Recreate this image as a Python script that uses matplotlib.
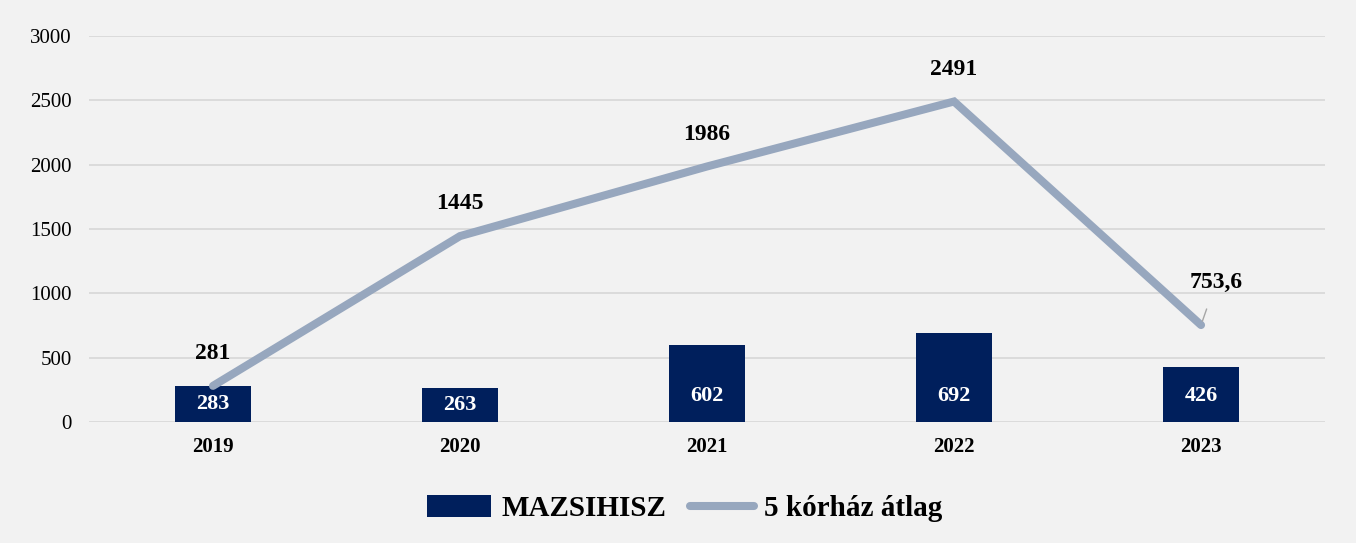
import matplotlib
matplotlib.use("Agg")
import matplotlib.pyplot as plt
import numpy as np

years = ["2019", "2020", "2021", "2022", "2023"]
mazsihisz = [283, 263, 602, 692, 426]
korhaz_atlag = [281, 1445, 1986, 2491, 753.6]
korhaz_labels = ["281", "1445", "1986", "2491", "753,6"]
yticks = [0, 500, 1000, 1500, 2000, 2500, 3000]

bar_color = "#001f5c"
line_color = "#97a7be"
bg = "#f2f2f2"

plt.rcParams['font.family'] = ['Liberation Serif', 'DejaVu Serif']

fig = plt.figure(figsize=(13.56, 5.43), dpi=100, facecolor=bg)
ax = fig.add_axes([0.066, 0.2228, 0.9108, 0.7109])
ax.set_facecolor(bg)

x = np.arange(len(years))
bars = ax.bar(x, mazsihisz, width=0.31, color=bar_color, zorder=2, label="MAZSIHISZ")
line, = ax.plot(x, korhaz_atlag, color=line_color, lw=5.8, solid_capstyle='round',
                solid_joinstyle='miter', zorder=3, label="5 kórház átlag")

for xi, v in zip(x, mazsihisz):
    ax.text(xi, min(v / 2, 200), str(v), ha='center', va='center', color='white',
            fontsize=16, fontweight='bold', zorder=4)

for i, (xi, v, lab) in enumerate(zip(x, korhaz_atlag, korhaz_labels)):
    if i == len(x) - 1:
        ax.annotate(lab, xy=(xi, v), xytext=(xi + 0.06, v + 330), ha='center', va='center',
                    fontsize=17, fontweight='bold', zorder=4,
                    arrowprops=dict(arrowstyle='-', color='#a6a6a6', lw=1,
                                    shrinkA=10, shrinkB=3))
    else:
        ax.text(xi, v + 250, lab, ha='center', va='center', fontsize=17,
                fontweight='bold', zorder=4)

ax.set_xlim(-0.5, len(x) - 0.5)
ax.set_ylim(0, 3000)
ax.set_yticks(yticks)
ax.set_yticklabels([str(t) for t in yticks], fontsize=15)
ax.set_xticks(x)
ax.set_xticklabels(years, fontsize=15, fontweight='bold')
ax.tick_params(axis='both', length=0)
ax.tick_params(axis='y', pad=13)
ax.tick_params(axis='x', pad=11)
ax.grid(axis='y', color='#d9d9d9', lw=1.3, zorder=0)
ax.set_axisbelow(True)
for s in ax.spines.values():
    s.set_visible(False)

leg = fig.legend([bars, line], ["MAZSIHISZ", "5 kórház átlag"], loc='center',
                 bbox_to_anchor=(0.505, 0.063), ncol=2, frameon=False,
                 prop={'size': 21, 'weight': 'bold'}, handlelength=2.2,
                 handleheight=0.75, handletextpad=0.35, columnspacing=0.8)
plt.savefig("out.png", dpi=100, facecolor=bg)
